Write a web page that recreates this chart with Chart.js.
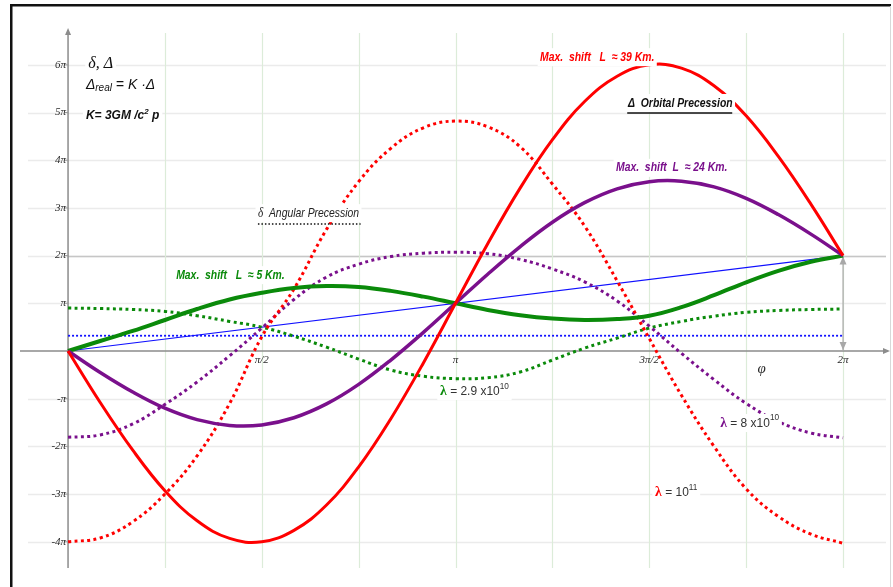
<!DOCTYPE html>
<html>
<head>
<meta charset="utf-8">
<script src="https://cdn.jsdelivr.net/npm/chart.js@4.4.1/dist/chart.umd.min.js"></script>
<style>
  body { margin: 0; background: #fff; }
  canvas { display: block; }
</style>
</head>
<body>
<canvas id="myChart" width="893" height="587"></canvas>
<script>
// phi in units of pi, values in units of pi
const phi = [0, 0.083, 0.167, 0.25, 0.333, 0.417, 0.5, 0.583, 0.667, 0.75, 0.833, 0.917, 1,
             1.083, 1.167, 1.25, 1.333, 1.417, 1.5, 1.583, 1.667, 1.75, 1.833, 1.917, 2];

// orbital precession Delta (solid)
const orbitRed    = [0, -1.08, -2.08, -2.93, -3.56, -3.93, -4.0, -3.76, -3.23, -2.43, -1.42, -0.25, 1.0,
                     2.25, 3.42, 4.43, 5.23, 5.76, 6.0, 5.93, 5.56, 4.93, 4.08, 3.08, 2.0];
const orbitPurple = [0, -0.45, -0.86, -1.20, -1.44, -1.56, -1.55, -1.40, -1.11, -0.70, -0.19, 0.39, 1.0,
                     1.61, 2.19, 2.70, 3.11, 3.40, 3.55, 3.56, 3.44, 3.20, 2.86, 2.45, 2.0];
const orbitGreen  = [0, 0.21, 0.42, 0.65, 0.88, 1.08, 1.22, 1.32, 1.36, 1.34, 1.26, 1.14, 1.0,
                     0.86, 0.75, 0.68, 0.65, 0.67, 0.74, 0.92, 1.17, 1.44, 1.68, 1.87, 2.0];

// angular precession delta (dotted)
const angleRed    = [-4.0, -3.92, -3.58, -3.0, -2.2, -1.1, 0.3, 1.3, 2.55, 3.55, 4.25, 4.68, 4.82,
                     4.70, 4.28, 3.5, 2.62, 1.47, 0.26, -0.93, -2.0, -2.89, -3.47, -3.84, -4.03];
const anglePurple = [-1.81, -1.76, -1.53, -1.12, -0.65, -0.10, 0.48, 1.08, 1.55, 1.82, 1.98, 2.05, 2.07,
                     2.04, 1.92, 1.72, 1.45, 1.05, 0.52, -0.05, -0.6, -1.1, -1.48, -1.72, -1.82];
const angleGreen  = [0.90, 0.89, 0.87, 0.83, 0.74, 0.62, 0.50, 0.31, 0.08, -0.17, -0.40, -0.53, -0.58,
                     -0.56, -0.44, -0.19, 0.06, 0.27, 0.48, 0.62, 0.73, 0.81, 0.85, 0.87, 0.88];

// newtonian reference lines
const lineEnds = [0, 2];
const newtonDelta = [0, 2];
const newtonAngle = [0.32, 0.32];

const yTicks = [-4, -3, -2, -1, 1, 2, 3, 4, 5, 6];
const yTickLabels = ['-4π', '-3π', '-2π', '-π', 'π', '2π', '3π', '4π', '5π', '6π'];
const xTicks = [0.5, 1, 1.5, 2];
const xTickLabels = ['π/2', 'π', '3π/2', '2π'];

const RED = '#ff0000';
const PURPLE = '#7a108c';
const GREEN = '#0a8a0a';
const BLUE = '#1010ff';

function pts(xs, ys) {
    return xs.map((x, i) => ({ x: x, y: ys[i] }));
}

function solid(data, color, width) {
    return { data: pts(phi, data), borderColor: color, borderWidth: width, tension: 0.4 };
}
function dotted(data, color) {
    return { data: pts(phi, data), borderColor: color, borderWidth: 3, borderDash: [3, 3.4], tension: 0.4 };
}

const gridPlugin = {
    id: 'grid',
    beforeDatasetsDraw(chart) {
        const c = chart.ctx, xs = chart.scales.x, ys = chart.scales.y, a = chart.chartArea;
        const x0 = xs.getPixelForValue(0), y0 = ys.getPixelForValue(0);
        c.save();
        // horizontal grid
        c.lineWidth = 1.5;
        for (let v = -4; v <= 6; v++) {
            if (v === 0) continue;
            const y = Math.round(ys.getPixelForValue(v)) + 0.5;
            c.strokeStyle = '#ebebeb';
            c.beginPath();
            c.moveTo(a.left + 8, y);
            c.lineTo(a.right - 2, y);
            c.stroke();
            if (v === 2) {
                c.strokeStyle = '#c6c6c6';
                c.beginPath();
                c.moveTo(x0, y);
                c.lineTo(a.right - 2, y);
                c.stroke();
            }
        }
        // vertical grid
        c.strokeStyle = '#dcecd9';
        c.lineWidth = 1.2;
        for (let t = 0.25; t <= 2.001; t += 0.25) {
            const x = Math.round(xs.getPixelForValue(t)) + 0.5;
            c.beginPath();
            c.moveTo(x, a.top + 3);
            c.lineTo(x, a.bottom);
            c.stroke();
        }
        // axes
        c.strokeStyle = '#8c8c8c';
        c.fillStyle = '#8c8c8c';
        c.lineWidth = 1.5;
        c.beginPath();
        c.moveTo(x0, a.top);
        c.lineTo(x0, a.bottom);
        c.moveTo(a.left, y0);
        c.lineTo(a.right, y0);
        c.stroke();
        c.beginPath();
        c.moveTo(x0, a.top - 2); c.lineTo(x0 - 3, a.top + 5); c.lineTo(x0 + 3, a.top + 5);
        c.closePath(); c.fill();
        c.beginPath();
        c.moveTo(a.right + 2, y0); c.lineTo(a.right - 5, y0 - 3); c.lineTo(a.right - 5, y0 + 3);
        c.closePath(); c.fill();
        // y ticks and labels
        c.font = 'italic 11px "Liberation Serif"';
        c.fillStyle = '#2a2a2a';
        c.textAlign = 'right';
        c.textBaseline = 'middle';
        yTicks.forEach((v, i) => {
            const y = ys.getPixelForValue(v);
            c.strokeStyle = '#999';
            c.lineWidth = 1;
            c.beginPath();
            c.moveTo(x0 - 3, y); c.lineTo(x0, y);
            c.stroke();
            c.fillText(yTickLabels[i], x0 - 2, y);
        });
        c.textAlign = 'center';
        xTicks.forEach((t, i) => {
            c.fillText(xTickLabels[i], xs.getPixelForValue(t), y0 + 9);
        });
        c.font = 'italic 15px "Liberation Serif"';
        c.fillText('φ', xs.getPixelForValue(1.79), ys.getPixelForValue(-0.38));
        // gray double arrow at 2pi
        const xe = xs.getPixelForValue(2), yt = ys.getPixelForValue(2);
        c.strokeStyle = '#a8a8a8';
        c.fillStyle = '#a8a8a8';
        c.lineWidth = 1.2;
        c.beginPath();
        c.moveTo(xe, yt); c.lineTo(xe, y0);
        c.stroke();
        c.beginPath();
        c.moveTo(xe, yt + 1); c.lineTo(xe - 3.5, yt + 9); c.lineTo(xe + 3.5, yt + 9);
        c.closePath(); c.fill();
        c.beginPath();
        c.moveTo(xe, y0 - 1); c.lineTo(xe - 3.5, y0 - 9); c.lineTo(xe + 3.5, y0 - 9);
        c.closePath(); c.fill();
        c.restore();
    }
};

// draws a run of text pieces side by side on a white patch, squeezed by sx
function runs(c, x, y, parts, sx) {
    sx = sx || 1;
    let w = 0;
    parts.forEach(p => { c.font = p.font; w += c.measureText(p.text).width; });
    c.save();
    c.translate(x, y);
    c.scale(sx, 1);
    c.fillStyle = '#fff';
    c.fillRect(-3, -9, w + 6, 18);
    let cx = 0;
    parts.forEach(p => {
        c.font = p.font;
        c.fillStyle = p.color || '#222';
        c.fillText(p.text, cx, p.dy || 0);
        cx += c.measureText(p.text).width;
    });
    c.restore();
}

const notesPlugin = {
    id: 'notes',
    afterDatasetsDraw(chart) {
        const c = chart.ctx, xs = chart.scales.x, ys = chart.scales.y;
        const at = (t, v) => [xs.getPixelForValue(t), ys.getPixelForValue(v)];
        c.save();
        c.textAlign = 'left';
        c.textBaseline = 'middle';

        let [x, y] = at(0.052, 6.02);
        runs(c, x, y, [{ text: 'δ, Δ', font: 'italic 16px "Liberation Serif"', color: '#111' }]);
        [x, y] = at(0.046, 5.58);
        runs(c, x, y, [
            { text: 'Δ', font: 'italic 14px "Liberation Sans"', color: '#111' },
            { text: 'real', font: 'italic 10px "Liberation Sans"', color: '#111', dy: 3 },
            { text: ' = K ·Δ', font: 'italic 14px "Liberation Sans"', color: '#111' }
        ]);
        [x, y] = at(0.046, 4.93);
        runs(c, x, y, [
            { text: 'K= 3GM /c', font: 'bold italic 12px "Liberation Sans"', color: '#111' },
            { text: '2', font: 'bold italic 8px "Liberation Sans"', color: '#111', dy: -4 },
            { text: ' p', font: 'bold italic 12px "Liberation Sans"', color: '#111' }
        ]);

        const bold = 'bold italic 13px "Liberation Sans"';
        [x, y] = at(1.218, 6.16);
        runs(c, x, y, [{ text: 'Max.  shift   L  ≈ 39 Km.', font: bold, color: RED }], 0.8);
        [x, y] = at(1.414, 3.84);
        runs(c, x, y, [{ text: 'Max.  shift  L  ≈ 24 Km.', font: bold, color: PURPLE }], 0.8);
        [x, y] = at(0.279, 1.59);
        runs(c, x, y, [{ text: 'Max.  shift   L  ≈ 5 Km.', font: bold, color: GREEN }], 0.8);

        [x, y] = at(1.445, 5.20);
        runs(c, x, y, [{ text: 'Δ  Orbital Precession', font: bold, color: '#111' }], 0.8);
        const [ux1, uy] = at(1.443, 4.99), [ux2] = at(1.714, 0);
        c.strokeStyle = '#111';
        c.lineWidth = 1.5;
        c.beginPath(); c.moveTo(ux1, uy); c.lineTo(ux2, uy); c.stroke();

        [x, y] = at(0.49, 2.89);
        runs(c, x, y, [
            { text: 'δ', font: 'italic 14px "Liberation Serif"', color: '#222' },
            { text: '  Angular Precession', font: 'italic 13px "Liberation Sans"', color: '#222' }
        ], 0.8);
        const [dx1, dy] = at(0.49, 2.66), [dx2] = at(0.755, 0);
        c.setLineDash([1.5, 2]);
        c.beginPath(); c.moveTo(dx1, dy); c.lineTo(dx2, dy); c.stroke();
        c.setLineDash([]);

        const lam = 'bold 15px "Liberation Serif"';
        const num = '13px "Liberation Sans"';
        const sup = '9px "Liberation Sans"';
        [x, y] = at(0.96, -0.84);
        runs(c, x, y, [
            { text: 'λ', font: lam, color: GREEN },
            { text: ' = 2.9 x10', font: num, color: '#333' },
            { text: '10', font: sup, color: '#333', dy: -5 }
        ], 0.92);
        [x, y] = at(1.683, -1.51);
        runs(c, x, y, [
            { text: 'λ', font: lam, color: PURPLE },
            { text: ' = 8 x10', font: num, color: '#333' },
            { text: '10', font: sup, color: '#333', dy: -5 }
        ], 0.92);
        [x, y] = at(1.515, -2.96);
        runs(c, x, y, [
            { text: 'λ', font: lam, color: RED },
            { text: ' = 10', font: num, color: '#333' },
            { text: '11', font: sup, color: '#333', dy: -5 }
        ], 0.92);
        c.restore();
    },
    afterDraw(chart) {
        // picture frame
        const c = chart.ctx;
        c.save();
        c.fillStyle = '#111';
        c.fillRect(10, 4, 881, 2.5);
        c.fillRect(10, 4, 2.5, 583);
        c.fillStyle = '#d8d8d8';
        c.fillRect(890, 6, 1, 581);
        c.restore();
    }
};

new Chart(document.getElementById('myChart'), {
    type: 'line',
    data: {
        datasets: [
            solid(orbitRed, RED, 3),
            solid(orbitPurple, PURPLE, 3.5),
            solid(orbitGreen, GREEN, 4),
            dotted(angleRed, RED),
            dotted(anglePurple, PURPLE),
            dotted(angleGreen, GREEN),
            { data: pts(lineEnds, newtonDelta), borderColor: BLUE, borderWidth: 1.2 },
            { data: pts(lineEnds, newtonAngle), borderColor: BLUE, borderWidth: 1.8, borderDash: [2, 2] }
        ]
    },
    options: {
        responsive: false,
        animation: false,
        devicePixelRatio: 1,
        layout: { padding: { left: 20, right: 5, top: 30, bottom: 19 } },
        elements: { point: { radius: 0 } },
        plugins: { legend: { display: false }, tooltip: { enabled: false } },
        scales: {
            x: { type: 'linear', min: -0.124, max: 2.116, display: false },
            y: { type: 'linear', min: -4.55, max: 6.73, display: false }
        }
    },
    plugins: [gridPlugin, notesPlugin]
});
</script>
</body>
</html>
